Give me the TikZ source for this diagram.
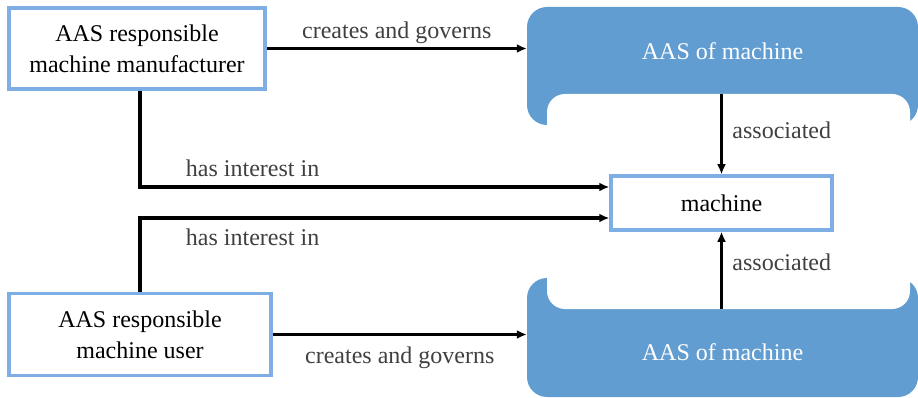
\documentclass[tikz,border=0pt]{standalone}
\usepackage{fontspec}
\setmainfont{Liberation Serif}
\usetikzlibrary{calc}
\usetikzlibrary{arrows.meta}
\definecolor{aasblue}{RGB}{97,157,209}
\definecolor{boxblue}{RGB}{125,175,228}
\definecolor{labelgray}{RGB}{64,64,64}

\begin{document}
\begin{tikzpicture}[x=1pt,y=-1pt,>={Latex[length=10pt,width=9pt]},
  party/.style={rectangle,draw=boxblue,line width=3.5pt,fill=white,align=center,font=\fontsize{24}{31}\selectfont},
  shell/.style={rectangle,fill=aasblue,rounded corners=20pt,inner sep=0pt},
  notch/.style={rectangle,fill=white,rounded corners=18pt,inner sep=0pt},
  link/.style={->,line width=3.2pt},
  lbl/.style={text=labelgray,font=\fontsize{24}{29}\selectfont}]
			\useasboundingbox (0,0) rectangle (918,398);
			%parties
			\node [party, minimum width=256pt, minimum height=81pt] at (137,48.5) (mfr) {AAS responsible\\machine manufacturer};
			\node [party, minimum width=262pt, minimum height=82pt] at (140,334.5) (usr) {AAS responsible\\machine user};
			%machine
			\node [party, minimum width=221pt, minimum height=54pt] at (721.5,203) (mach) {machine};
			%upper shell
			\node [shell, minimum width=391pt, minimum height=118pt] at (722.5,66) (aasT) {};
			\node [notch, minimum width=363pt, minimum height=60pt] at (728.5,124) (cutT) {};
			\node [text=white, font=\fontsize{24}{29}\selectfont] at ($(aasT.center)+(0,-15)$) (aasTtxt) {AAS of machine};
			%lower shell
			\node [shell, minimum width=391pt, minimum height=119pt] at (722.5,337.5) (aasB) {};
			\node [notch, minimum width=363pt, minimum height=60pt] at (728.5,279) (cutB) {};
			\node [text=white, font=\fontsize{24}{29}\selectfont] at ($(aasB.center)+(0,15)$) (aasBtxt) {AAS of machine};

			%creates and governs
			\draw [link] (mfr.east) -- node[lbl,above] {creates and governs} (mfr.east -| aasT.west);
			\draw [link] (usr.east) -- node[lbl,below,yshift=-7pt] {creates and governs} (usr.east -| aasB.west);
			%has interest in
			\draw [link] ($(mfr.south)+(3,0)$) |- node[lbl,above,pos=0.62,yshift=5pt] {has interest in} ($(mach.west)+(0,-16)$);
			\draw [link] (usr.north) |- node[lbl,below,pos=0.62,yshift=-6pt] {has interest in} ($(mach.west)+(0,15)$);
			%associated
			\draw [link] (mach.north |- cutT.north) -- node[lbl,right,pos=0.45,xshift=6pt] {associated} (mach.north);
			\draw [link] (mach.south |- cutB.south) -- node[lbl,right,pos=0.6,xshift=6pt] {associated} (mach.south);
		\end{tikzpicture}
\end{document}
